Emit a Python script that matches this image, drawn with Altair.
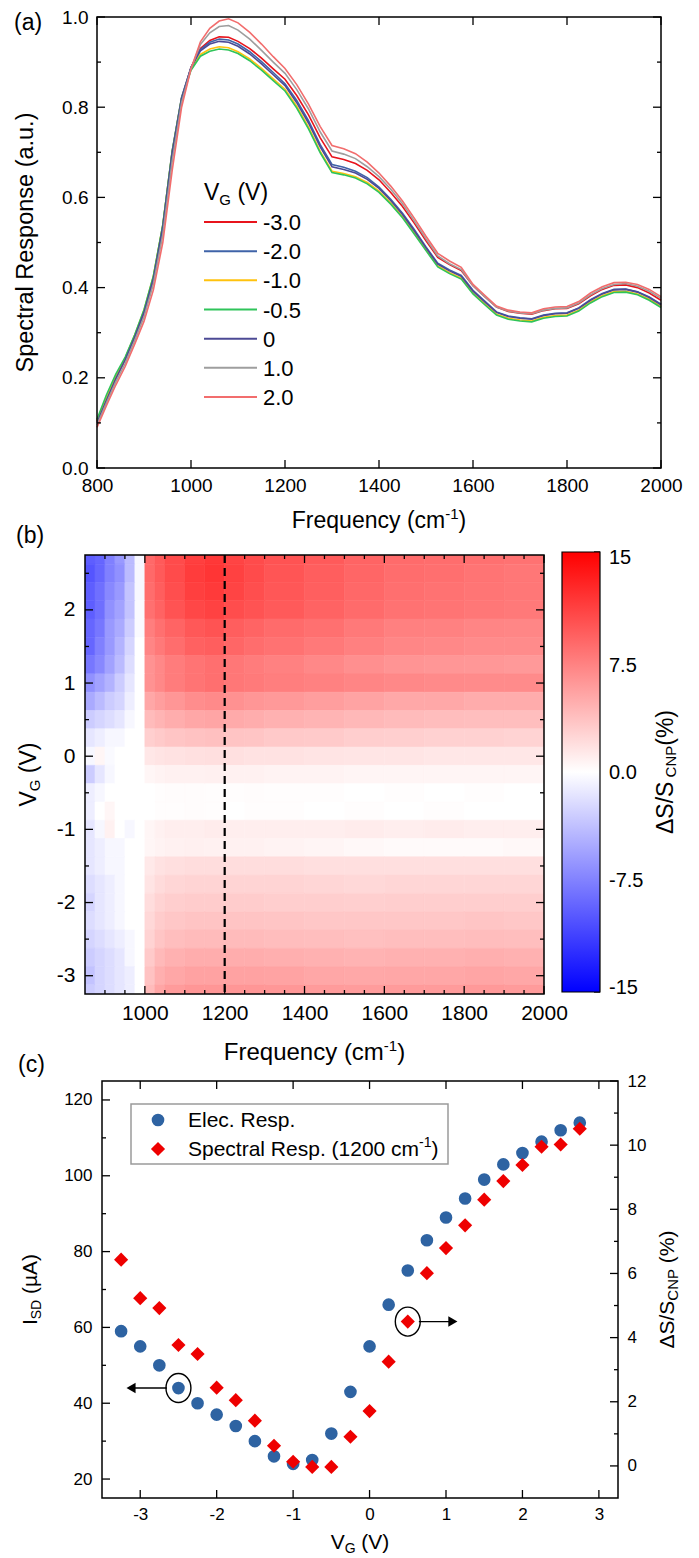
import altair as alt
import pandas as pd

FONT = "Liberation Sans"

# ---------------- (a) spectral response data ----------------
freq_a = [800, 820, 840, 860, 880, 900, 920, 940, 960, 980, 1000, 1020, 1040, 1060, 1080,
          1100, 1125, 1150, 1175, 1200, 1225, 1250, 1275, 1300, 1325, 1350, 1375, 1400,
          1425, 1450, 1475, 1500, 1525, 1550, 1575, 1600, 1625, 1650, 1675, 1700, 1725,
          1750, 1775, 1800, 1825, 1850, 1875, 1900, 1925, 1950, 1975, 2000]
vg_labels = ["-3.0", "-2.0", "-1.0", "-0.5", "0", "1.0", "2.0"]
vg_colors = ["#e8141c", "#3f63a8", "#ffc20e", "#2fc45a", "#4c4a95", "#9e9e9e", "#f26d6d"]

resp_m30 = [0.103, 0.150, 0.198, 0.240, 0.290, 0.343, 0.416, 0.530, 0.695, 0.818, 0.888, 0.930, 0.948, 0.956, 0.955,
            0.946, 0.930, 0.909, 0.885, 0.862, 0.826, 0.783, 0.732, 0.690, 0.684, 0.675, 0.660, 0.639,
            0.611, 0.580, 0.543, 0.504, 0.467, 0.451, 0.438, 0.404, 0.380, 0.357, 0.347, 0.343, 0.341,
            0.349, 0.353, 0.354, 0.364, 0.382, 0.396, 0.405, 0.406, 0.400, 0.388, 0.372]
resp_m20 = [0.105, 0.153, 0.200, 0.243, 0.292, 0.347, 0.423, 0.538, 0.703, 0.822, 0.888, 0.928, 0.944, 0.951, 0.949,
            0.940, 0.923, 0.901, 0.877, 0.852, 0.815, 0.770, 0.717, 0.673, 0.667, 0.658, 0.644, 0.623,
            0.596, 0.565, 0.529, 0.490, 0.454, 0.439, 0.427, 0.394, 0.370, 0.346, 0.337, 0.333, 0.331,
            0.339, 0.343, 0.344, 0.355, 0.373, 0.387, 0.396, 0.397, 0.391, 0.379, 0.363]
resp_m10 = [0.105, 0.155, 0.202, 0.244, 0.294, 0.350, 0.426, 0.539, 0.702, 0.820, 0.884, 0.917, 0.929, 0.934, 0.932,
            0.923, 0.907, 0.886, 0.863, 0.840, 0.802, 0.756, 0.702, 0.658, 0.653, 0.646, 0.633, 0.614,
            0.588, 0.557, 0.522, 0.484, 0.448, 0.433, 0.421, 0.388, 0.364, 0.341, 0.332, 0.328, 0.326,
            0.334, 0.338, 0.339, 0.350, 0.368, 0.382, 0.391, 0.392, 0.386, 0.374, 0.358]
resp_m05 = [0.108, 0.162, 0.208, 0.246, 0.295, 0.351, 0.426, 0.539, 0.702, 0.820, 0.882, 0.913, 0.924, 0.929, 0.927,
            0.919, 0.903, 0.882, 0.859, 0.836, 0.798, 0.752, 0.699, 0.655, 0.650, 0.643, 0.630, 0.611,
            0.585, 0.555, 0.519, 0.482, 0.446, 0.431, 0.419, 0.386, 0.362, 0.339, 0.330, 0.326, 0.324,
            0.332, 0.336, 0.337, 0.348, 0.366, 0.380, 0.389, 0.390, 0.384, 0.372, 0.356]
resp_0 = [0.100, 0.150, 0.198, 0.240, 0.290, 0.345, 0.420, 0.535, 0.700, 0.820, 0.888, 0.925, 0.940, 0.946, 0.944,
          0.935, 0.918, 0.896, 0.872, 0.848, 0.810, 0.765, 0.712, 0.668, 0.662, 0.654, 0.640, 0.620,
          0.593, 0.562, 0.526, 0.488, 0.452, 0.437, 0.425, 0.392, 0.368, 0.345, 0.336, 0.332, 0.330,
          0.338, 0.342, 0.343, 0.354, 0.372, 0.386, 0.395, 0.396, 0.390, 0.378, 0.362]
resp_p10 = [0.095, 0.144, 0.191, 0.232, 0.282, 0.335, 0.408, 0.517, 0.680, 0.810, 0.886, 0.939, 0.965, 0.979, 0.981,
            0.971, 0.951, 0.926, 0.900, 0.875, 0.839, 0.796, 0.745, 0.703, 0.696, 0.686, 0.668, 0.646,
            0.618, 0.586, 0.548, 0.508, 0.470, 0.453, 0.440, 0.404, 0.380, 0.357, 0.348, 0.344, 0.342,
            0.350, 0.354, 0.355, 0.366, 0.384, 0.398, 0.407, 0.409, 0.403, 0.392, 0.376]
resp_p20 = [0.090, 0.138, 0.184, 0.225, 0.274, 0.325, 0.395, 0.500, 0.660, 0.800, 0.885, 0.945, 0.975, 0.991, 0.996,
            0.987, 0.966, 0.940, 0.912, 0.886, 0.850, 0.807, 0.757, 0.715, 0.708, 0.697, 0.678, 0.654,
            0.625, 0.592, 0.554, 0.514, 0.476, 0.459, 0.445, 0.407, 0.383, 0.359, 0.350, 0.346, 0.344,
            0.353, 0.357, 0.358, 0.369, 0.388, 0.402, 0.411, 0.412, 0.407, 0.396, 0.380]
series_a = [resp_m30, resp_m20, resp_m10, resp_m05, resp_0, resp_p10, resp_p20]

# ---------------- (b) map data: dS/S (%) ----------------
heat_f = [850, 875, 900, 925, 950, 975, 1000, 1025, 1050, 1100, 1150, 1200, 1250, 1300,
          1400, 1500, 1600, 1700, 1800, 1900, 2000]
heat_vg = [2.75, 2.5, 2.25, 2.0, 1.75, 1.5, 1.25, 1.0, 0.75, 0.5, 0.25, 0.0, -0.25, -0.5,
           -0.75, -1.0, -1.25, -1.5, -1.75, -2.0, -2.25, -2.5, -2.75, -3.0, -3.25]
heat_rows = [
    [-9.5, -9.0, -7.5, -6.0, -4.0, -0.5, 8.8, 9.7, 10.6, 11.3, 11.7, 11.0, 10.6, 10.1, 9.7, 9.1, 8.7, 8.6, 8.4, 8.3],
    [-10.0, -9.0, -7.5, -6.5, -4.0, -0.5, 8.8, 9.7, 10.6, 11.5, 11.9, 11.2, 10.6, 10.0, 9.5, 9.0, 8.6, 8.5, 8.2, 8.0],
    [-9.5, -8.5, -7.0, -6.0, -3.5, -0.5, 8.6, 9.5, 10.4, 11.3, 11.6, 11.0, 10.4, 9.9, 9.4, 8.9, 8.5, 8.3, 8.1, 8.0],
    [-9.5, -8.5, -6.5, -5.5, -3.5, -0.3, 8.4, 9.2, 10.1, 10.8, 11.1, 10.5, 10.1, 9.7, 9.2, 8.7, 8.3, 8.2, 8.0, 7.9],
    [-9.0, -8.0, -6.0, -5.0, -3.0, -0.3, 7.6, 8.4, 9.1, 9.8, 10.1, 9.5, 9.1, 8.7, 8.4, 7.9, 7.5, 7.4, 7.2, 7.1],
    [-9.0, -7.5, -6.0, -4.5, -2.5, 0.0, 7.2, 7.9, 8.6, 9.3, 9.5, 9.0, 8.6, 8.3, 7.9, 7.5, 7.1, 7.0, 6.8, 6.8],
    [-8.0, -7.0, -5.5, -4.0, -2.0, 0.0, 6.4, 7.0, 7.7, 8.2, 8.5, 8.0, 7.7, 7.4, 7.0, 6.6, 6.3, 6.2, 6.1, 6.0],
    [-6.5, -5.5, -4.5, -3.0, -1.5, 0.0, 6.4, 7.0, 7.7, 8.2, 8.5, 8.0, 7.8, 7.6, 7.4, 7.2, 7.0, 6.9, 6.8, 6.8],
    [-5.0, -4.0, -3.0, -2.5, -1.0, 0.0, 5.2, 5.7, 6.2, 6.7, 6.9, 6.5, 6.2, 6.0, 5.7, 5.4, 5.1, 5.1, 4.9, 4.9],
    [-3.0, -2.5, -2.0, -1.5, -0.5, 0.0, 4.0, 4.4, 4.8, 5.2, 5.3, 5.0, 4.8, 4.6, 4.4, 4.2, 4.0, 3.9, 3.8, 3.8],
    [-1.5, -1.0, -0.5, -0.5, 0.0, 0.0, 2.8, 3.1, 3.4, 3.6, 3.7, 3.5, 3.4, 3.2, 3.1, 2.9, 2.8, 2.7, 2.7, 2.6],
    [-0.5, 0.5, -0.3, 0.0, 0.0, 0.0, 1.4, 1.6, 1.7, 1.8, 1.9, 1.8, 1.7, 1.7, 1.6, 1.5, 1.5, 1.4, 1.4, 1.4],
    [-3.0, -1.5, -0.5, 0.0, 0.0, 0.0, 0.5, 0.7, 0.8, 0.8, 0.9, 0.8, 0.8, 0.7, 0.7, 0.6, 0.6, 0.6, 0.6, 0.6],
    [-1.0, -0.5, 0.0, 0.0, 0.0, 0.0, 0.0, 0.1, 0.2, 0.2, 0.1, 0.1, 0.2, 0.1, 0.1, 0.0, 0.1, 0.0, 0.1, 0.0],
    [-1.0, 0.0, 0.5, 0.0, 0.0, 0.0, 0.0, 0.1, 0.1, 0.2, 0.1, 0.0, 0.1, 0.1, 0.0, 0.1, 0.0, 0.1, 0.0, 0.0],
    [-1.5, -0.5, 0.8, 0.0, -0.5, 0.0, 0.5, 0.8, 1.0, 1.0, 1.1, 1.0, 1.0, 1.0, 1.0, 1.1, 1.0, 1.1, 1.0, 1.0],
    [-1.5, -1.0, -0.5, -0.5, 0.0, 0.0, 0.5, 0.7, 0.8, 0.9, 0.8, 0.8, 0.8, 0.7, 0.6, 0.4, 0.3, 0.3, 0.3, 0.4],
    [-1.5, -1.0, -0.5, -0.5, 0.0, 0.0, 1.3, 1.7, 1.9, 2.0, 2.0, 2.0, 2.0, 2.0, 1.9, 1.9, 1.9, 1.9, 1.9, 1.9],
    [-2.0, -1.5, -1.0, -0.5, 0.0, 0.0, 1.6, 2.1, 2.4, 2.5, 2.5, 2.5, 2.5, 2.5, 2.4, 2.3, 2.4, 2.4, 2.4, 2.4],
    [-2.5, -1.5, -1.0, -0.5, 0.0, 0.0, 2.0, 2.6, 2.9, 3.0, 3.0, 3.0, 3.0, 2.9, 2.9, 2.8, 2.9, 2.9, 2.9, 2.9],
    [-2.0, -1.5, -1.0, -0.5, 0.0, 0.0, 2.3, 3.0, 3.3, 3.5, 3.5, 3.5, 3.5, 3.4, 3.3, 3.3, 3.3, 3.3, 3.4, 3.3],
    [-2.5, -2.0, -1.5, -1.0, -0.5, 0.0, 2.6, 3.4, 3.8, 4.0, 4.0, 4.0, 4.0, 3.9, 3.8, 3.7, 3.8, 3.8, 3.9, 3.8],
    [-3.0, -2.5, -2.0, -1.5, -0.5, 0.0, 3.1, 4.1, 4.6, 4.8, 4.8, 4.8, 4.8, 4.7, 4.6, 4.5, 4.6, 4.6, 4.7, 4.6],
    [-3.5, -2.5, -2.0, -1.5, -1.0, 0.0, 3.6, 4.7, 5.2, 5.5, 5.5, 5.5, 5.5, 5.4, 5.2, 5.1, 5.2, 5.2, 5.3, 5.2],
    [-3.0, -2.5, -2.0, -1.5, -1.0, 0.0, 4.0, 5.3, 5.9, 6.2, 6.2, 6.2, 6.2, 6.1, 5.9, 5.8, 5.9, 5.9, 6.0, 5.9],
]
cbar_values = [15, 7.5, 0, -7.5, -15]
cbar_labels = ["15", "7.5", "0.0", "-7.5", "-15"]

# ---------------- (c) gate sweep data ----------------
vg_c = [-3.25, -3.0, -2.75, -2.5, -2.25, -2.0, -1.75, -1.5, -1.25, -1.0, -0.75, -0.5, -0.25,
        0.0, 0.25, 0.5, 0.75, 1.0, 1.25, 1.5, 1.75, 2.0, 2.25, 2.5, 2.75]
isd_c = [59, 55, 50, 44, 40, 37, 34, 30, 26, 24, 25, 32, 43, 55, 66, 75, 83, 89, 94, 99, 103,
         106, 109, 112, 114]
ds_c = [6.43, 5.23, 4.92, 3.77, 3.49, 2.44, 2.05, 1.41, 0.63, 0.13, -0.03, -0.03, 0.91, 1.71,
        3.25, 4.5, 6.01, 6.79, 7.5, 8.3, 8.88, 9.38, 9.95, 10.02, 10.51]
mark_left = {"vg": [-2.5], "y": [44], "a0": [-2.65], "a1": [-3.12]}
mark_right = {"vg": [0.5], "y": [4.5], "a0": [0.645], "a1": [1.09]}

BLUE_C = "#2e63a2"
RED_C = "#ee0000"

# ---------------- helpers ----------------
ONE = pd.DataFrame({"k": [0]})
CW = {" ": 278, "(": 333, ")": 333, "%": 889, "/": 278, "-": 333, ".": 278,
      "A": 667, "C": 722, "D": 722, "E": 667, "F": 611, "G": 778, "I": 278, "N": 722,
      "P": 667, "R": 722, "S": 667, "V": 667, "a": 556, "c": 500, "e": 556, "l": 222,
      "m": 833, "n": 556, "o": 556, "p": 556, "q": 556, "r": 333, "s": 500, "t": 278,
      "u": 556, "y": 500, "\u00b5": 576, "\u0394": 668}


def text_w(s, size):
    return sum(CW.get(c, 556) for c in s) * size / 1000.0


def rich(pieces, x, y, angle=0, anchor="middle"):
    total = sum(text_w(t, s) for t, s, _ in pieces)
    cur = -total / 2.0 if anchor == "middle" else 0.0
    out = []
    for t, s, d in pieces:
        lead = len(t) - len(t.lstrip(" "))
        cur += text_w(" " * lead, s)
        body = t.strip(" ")
        if angle == 0:
            px, py = x + cur, y + d
        else:
            px, py = x + d, y - cur
        out.append(alt.Chart(ONE).mark_text(text=body, font=FONT, fontSize=s, align="left",
                                            baseline="alphabetic", angle=angle, color="black")
                   .encode(x=alt.value(px), y=alt.value(py)))
        cur += text_w(t.lstrip(" "), s)
    return out


def ax(orient, values, size, pad, fmt=None, offset=0):
    kw = dict(orient=orient, values=values, labelFontSize=size, labelFont=FONT,
              labelColor="black", labelPadding=pad, ticks=False, tickSize=0, domain=False,
              grid=False, title=None, labelFlush=False, labelOverlap=False, offset=offset,
              labelExpr="replace(datum.label, '\u2212', '-')")
    if fmt:
        kw["format"] = fmt
    return alt.Axis(**kw)


def rules_y(vals, scale, x0, x1):
    return alt.Chart(pd.DataFrame({"t": vals})).mark_rule(color="black", strokeWidth=1.3).encode(
        y=alt.Y("t:Q", scale=scale, axis=None), x=alt.value(x0), x2=alt.value(x1))


def rules_x(vals, scale, y0, y1):
    return alt.Chart(pd.DataFrame({"t": vals})).mark_rule(color="black", strokeWidth=1.3).encode(
        x=alt.X("t:Q", scale=scale, axis=None), y=alt.value(y0), y2=alt.value(y1))


def frame(x0, x1, y0, y1, color="black", width=1.5):
    return alt.Chart(ONE).mark_rect(fillOpacity=0, stroke=color, strokeWidth=width).encode(
        x=alt.value(x0), x2=alt.value(x1), y=alt.value(y0), y2=alt.value(y1))


def label(t, x, y):
    return alt.Chart(ONE).mark_text(text=t, font=FONT, fontSize=23, align="left",
                                    baseline="alphabetic", color="black").encode(
        x=alt.value(x), y=alt.value(y))


MAJ, MIN = 8, 4

# ---------------- panel (a) ----------------
WA, HA = 576, 451
XA0 = 12
rows = []
for lab, vals in zip(vg_labels, series_a):
    for f, r in zip(freq_a, vals):
        rows.append({"vg": lab, "f": f, "r": r})
df_a = pd.DataFrame(rows)

xa = alt.Scale(domain=[800, 2000], range=[XA0, WA], nice=False, zero=False)
ya = alt.Scale(domain=[0, 1], nice=False, zero=False)
col_a = alt.Color("vg:N", scale=alt.Scale(domain=vg_labels, range=vg_colors), legend=None)

lines_a = alt.Chart(df_a).mark_line(strokeWidth=1.6).encode(
    x=alt.X("f:Q", scale=xa, axis=ax("bottom", [800, 1000, 1200, 1400, 1600, 1800, 2000], 19, 8, "d")),
    y=alt.Y("r:Q", scale=ya, axis=ax("left", [0, 0.2, 0.4, 0.6, 0.8, 1.0], 19, 9, ".1f", offset=-XA0)),
    color=col_a,
)

ya_maj = [0, 0.2, 0.4, 0.6, 0.8, 1.0]
ya_min = [0.1, 0.3, 0.5, 0.7, 0.9]
xa_maj = [800, 1000, 1200, 1400, 1600, 1800, 2000]
ticks_a = [
    rules_y(ya_maj, ya, XA0, XA0 + MAJ), rules_y(ya_min, ya, XA0, XA0 + MIN),
    rules_y(ya_maj, ya, WA, WA - MAJ), rules_y(ya_min, ya, WA, WA - MIN),
    rules_x(xa_maj, xa, HA, HA - MAJ), rules_x(xa_maj, xa, 0, MAJ),
]

leg_df = pd.DataFrame({"vg": vg_labels, "row": list(range(len(vg_labels)))})
leg_y = alt.Scale(domain=[0, 6], range=[205, 380], nice=False, zero=False)
leg_lines = alt.Chart(leg_df).mark_rule(strokeWidth=2).encode(
    y=alt.Y("row:Q", scale=leg_y, axis=None), x=alt.value(119), x2=alt.value(172), color=col_a)
leg_text = alt.Chart(leg_df).mark_text(align="left", baseline="middle", font=FONT, fontSize=22,
                                       color="black", dy=1).encode(
    y=alt.Y("row:Q", scale=leg_y, axis=None), x=alt.value(178), text="vg:N")

texts_a = (rich([("V", 23, 0), ("G", 15, 5), (" (V)", 23, 0)], 119, 183, anchor="start")
           + rich([("Spectral Response (a.u.)", 23.5, 0)], -52, HA / 2, angle=270)
           + rich([("Frequency (cm", 23, 0), ("-1", 15, -9), (")", 23, 0)], (XA0 + WA) / 2, 511)
           + [label("(a)", -71, 13)])

panel_a = alt.layer(lines_a, frame(XA0, WA, 0, HA), *ticks_a, leg_lines, leg_text, *texts_a
                    ).resolve_scale(x="independent", y="independent").properties(width=WA, height=HA)

# ---------------- panel (b) ----------------
WB, HB = 459, 439
cells = []
for v, vals in zip(heat_vg, heat_rows):
    for j, val in enumerate(vals):
        cells.append({"f0": heat_f[j], "f1": heat_f[j + 1], "v0": v - 0.125, "v1": v + 0.125, "val": val})
df_b = pd.DataFrame(cells)

xb = alt.Scale(domain=[850, 2000], nice=False, zero=False)
yb = alt.Scale(domain=[-3.25, 2.75], nice=False, zero=False)
cscale = alt.Scale(domain=[-15, 0, 15], range=["#0000ff", "#ffffff", "#ff0000"], interpolate="rgb")

heat = alt.Chart(df_b).mark_rect(clip=True, strokeWidth=0.6).encode(
    x=alt.X("f0:Q", scale=xb, axis=ax("bottom", [1000, 1200, 1400, 1600, 1800, 2000], 21, 8, "d")),
    x2="f1:Q",
    y=alt.Y("v0:Q", scale=yb, axis=ax("left", [-3, -2, -1, 0, 1, 2], 21, 10, "d")),
    y2="v1:Q",
    color=alt.Color("val:Q", scale=cscale, legend=alt.Legend(
        orient="none", legendX=477, legendY=-3, direction="vertical", gradientLength=440,
        gradientThickness=38, values=cbar_values, title=None, labelOpacity=0, labelFontSize=1,
        gradientStrokeColor="black", gradientStrokeWidth=1.2, padding=0)),
    stroke=alt.Stroke("val:Q", scale=cscale, legend=None),
)

dash = alt.Chart(pd.DataFrame({"f": [1200]})).mark_rule(color="black", strokeWidth=2.2,
                                                        strokeDash=[8, 5]).encode(
    x=alt.X("f:Q", scale=xb, axis=None))

yb_maj = [-3, -2, -1, 0, 1, 2]
yb_min = [-2.5, -1.5, -0.5, 0.5, 1.5, 2.5]
xb_maj = [1000, 1200, 1400, 1600, 1800, 2000]
xb_min = [900, 950, 1050, 1100, 1150, 1250, 1300, 1350, 1450, 1500, 1550, 1650, 1700, 1750,
          1850, 1900, 1950]
ticks_b = [
    rules_y(yb_maj, yb, 0, MAJ), rules_y(yb_min, yb, 0, MIN),
    rules_y(yb_maj, yb, WB, WB - MAJ), rules_y(yb_min, yb, WB, WB - MIN),
    rules_x(xb_maj, xb, HB, HB - MAJ), rules_x(xb_min, xb, HB, HB - MIN),
    rules_x(xb_maj, xb, 0, MAJ), rules_x(xb_min, xb, 0, MIN),
]
cb_scale = alt.Scale(domain=[-15, 15], range=[437, -3], nice=False, zero=False)
cb_ticks = rules_y(cbar_values, cb_scale, 509, 515)
cb_df = pd.DataFrame({"t": cbar_values, "lab": cbar_labels})
cb_text = alt.Chart(cb_df).mark_text(align="left", baseline="middle", font=FONT, fontSize=20,
                                     color="black", dy=1).encode(
    y=alt.Y("t:Q", scale=alt.Scale(domain=[-15, 15], range=[432, 2], nice=False, zero=False), axis=None),
    x=alt.value(524), text="lab:N")

texts_b = (rich([("V", 23, 0), ("G", 15, 4), (" (V)", 23, 0)], -49, HB / 2, angle=270)
           + rich([("Frequency (cm", 24, 0), ("-1", 15, -9), (")", 24, 0)], WB / 2, 505)
           + rich([("\u0394S/S", 23, 0), (" CNP", 15, 3), ("(%)", 23, 0)], 588, 217, angle=270)
           + [label("(b)", -69, -12)])

panel_b = alt.layer(heat, dash, frame(0, WB, 0, HB), *ticks_b, cb_ticks, cb_text, *texts_b
                    ).resolve_scale(x="independent", y="independent").properties(width=WB, height=HB)

# ---------------- panel (c) ----------------
WC, HC = 533, 417
XC0 = 17
df_c = pd.DataFrame({"vg": vg_c, "isd": isd_c, "ds": ds_c})
xc = alt.Scale(domain=[-3.5, 3.25], range=[XC0, WC], nice=False, zero=False)
ycl = alt.Scale(domain=[15, 125], nice=False, zero=False)
ycr = alt.Scale(domain=[-1, 12], nice=False, zero=False)

circles = alt.Chart(df_c).mark_point(shape="circle", filled=True, size=160, color=BLUE_C,
                                      opacity=1).encode(
    x=alt.X("vg:Q", scale=xc, axis=ax("bottom", [-3, -2, -1, 0, 1, 2, 3], 17, 8, "d")),
    y=alt.Y("isd:Q", scale=ycl, axis=ax("left", [20, 40, 60, 80, 100, 120], 17, 10, "d", offset=-XC0)),
)
diamonds = alt.Chart(df_c).mark_point(shape="diamond", filled=True, size=200, color=RED_C,
                                       opacity=1).encode(
    x=alt.X("vg:Q", scale=xc, axis=None),
    y=alt.Y("ds:Q", scale=ycr, axis=ax("right", [0, 2, 4, 6, 8, 10, 12], 17, 9, "d")),
)

ELL = "M -0.86 0 A 0.86 1 0 1 0 0.86 0 A 0.86 1 0 1 0 -0.86 0 Z"


def annot(d, yscale, head_shape):
    df = pd.DataFrame(d)
    ell = alt.Chart(df).mark_point(shape=ELL, size=841, filled=False, color="black",
                                   strokeWidth=1.4, opacity=1).encode(
        x=alt.X("vg:Q", scale=xc, axis=None), y=alt.Y("y:Q", scale=yscale, axis=None))
    line = alt.Chart(df).mark_rule(color="black", strokeWidth=1.4).encode(
        x=alt.X("a0:Q", scale=xc, axis=None), x2="a1:Q", y=alt.Y("y:Q", scale=yscale, axis=None))
    head = alt.Chart(df).mark_point(shape=head_shape, size=110, filled=True, color="black",
                                    opacity=1).encode(
        x=alt.X("a1:Q", scale=xc, axis=None), y=alt.Y("y:Q", scale=yscale, axis=None))
    return [ell, line, head]


ycl_maj = [20, 40, 60, 80, 100, 120]
ycl_min = [30, 50, 70, 90, 110]
ycr_maj = [0, 2, 4, 6, 8, 10, 12]
ycr_min = [1, 3, 5, 7, 9, 11]
xc_maj = [-3, -2, -1, 0, 1, 2, 3]
ticks_c = [
    rules_y(ycl_maj, ycl, XC0, XC0 + MAJ), rules_y(ycl_min, ycl, XC0, XC0 + MIN),
    rules_y(ycr_maj, ycr, WC, WC - MAJ), rules_y(ycr_min, ycr, WC, WC - MIN),
    rules_x(xc_maj, xc, HC, HC - MAJ), rules_x(xc_maj, xc, 0, MAJ),
]

leg_box = frame(46, 363, 23, 83, color="#9a9a9a", width=1.5)
leg_c1 = alt.Chart(ONE).mark_point(shape="circle", filled=True, size=160, color=BLUE_C,
                                   opacity=1).encode(x=alt.value(73), y=alt.value(39))
leg_c2 = alt.Chart(ONE).mark_point(shape="diamond", filled=True, size=200, color=RED_C,
                                   opacity=1).encode(x=alt.value(73), y=alt.value(68))
texts_c = (rich([("Elec. Resp.", 21, 0)], 103, 46, anchor="start")
           + rich([("Spectral Resp. (1200 cm", 21, 0), ("-1", 14, -9), (")", 21, 0)], 103, 75,
                  anchor="start")
           + rich([("I", 21, 0), ("SD", 14, 4), (" (\u00b5A)", 21, 0)], -48, HC / 2, angle=270)
           + rich([("\u0394S/S", 21, 0), ("CNP", 15, 4), (" (%)", 21, 0)], 589, HC / 2, angle=270)
           + rich([("V", 21, 0), ("G", 14, 4), (" (V)", 21, 0)], (XC0 + WC) / 2, 468)
           + [label("(c)", -67, -9)])

panel_c = alt.layer(circles, diamonds, frame(XC0, WC, 0, HC), *ticks_c,
                    *annot(mark_left, ycl, "triangle-left"),
                    *annot(mark_right, ycr, "triangle-right"),
                    leg_box, leg_c1, leg_c2, *texts_c
                    ).resolve_scale(x="independent", y="independent").properties(width=WC, height=HC)

chart = alt.vconcat(panel_a, panel_b, panel_c, spacing=87, bounds="flush").properties(
    padding={"left": 5, "top": 0, "right": 5, "bottom": 0}
).configure_view(stroke=None)

chart.save("out.html", embed_options={"renderer": "svg", "actions": False})
